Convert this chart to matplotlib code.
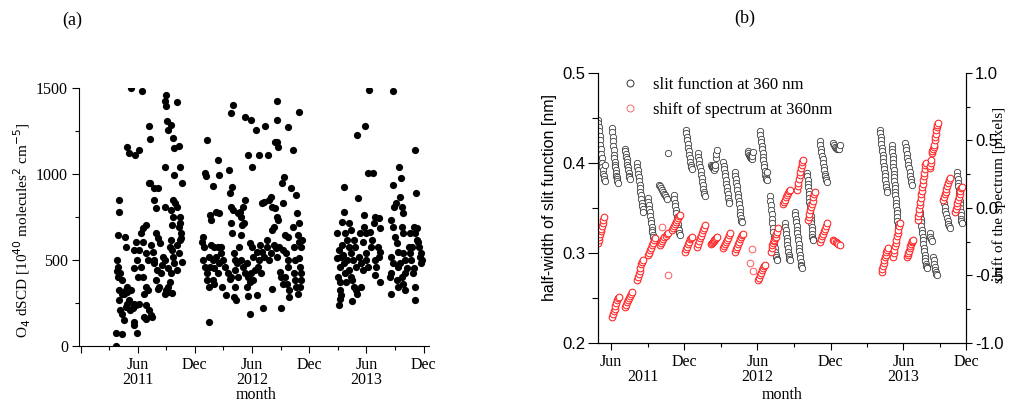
import numpy as np
import matplotlib
matplotlib.use("Agg")
import matplotlib.pyplot as plt
from matplotlib.lines import Line2D
from matplotlib.transforms import blended_transform_factory

SERIF = "Liberation Serif"
SANS = "Liberation Sans"
EPOCH = np.datetime64("2011-01-01")

plt.rcParams["font.family"] = SERIF


def day(s):
    """Days since 2011-01-01 for an ISO date string."""
    return int((np.datetime64(s) - EPOCH).astype(int))


# ---- panel (a): O4 dSCD, x in days since 2011-01-01 ----
o4_2011_days = [81, 82, 102, 149, 84, 91, 93, 87, 86, 89,
                88, 96, 102, 91, 102, 93, 107, 113, 118, 96,
                102, 107, 113, 118, 127, 135, 140, 113, 111, 118,
                124, 129, 140, 141, 145, 156, 118, 124, 143, 156,
                129, 165, 148, 140, 151, 156, 145, 140, 162, 169,
                178, 167, 178, 184, 162, 167, 178, 184, 173, 178,
                189, 173, 178, 194, 198, 187, 191, 187, 191, 202,
                216, 205, 211, 194, 200, 202, 211, 216, 222, 205,
                213, 227, 211, 220, 216, 233, 230, 238, 238, 249,
                254, 241, 240, 239, 241, 238, 241, 244, 249, 257,
                257, 265, 260, 265, 276, 271, 254, 260, 265, 267,
                276, 249, 257, 249, 260, 265, 267, 267, 276, 282,
                287, 285, 287, 282, 289, 287, 293, 293, 276, 282,
                289, 258]
o4_2011_vals = [0, 76, 68, 76, 437, 849, 781, 645, 499, 460,
                402, 422, 383, 324, 305, 266, 305, 324, 344, 208,
                188, 150, 227, 247, 208, 218, 247, 577, 635, 315,
                266, 324, 140, 120, 241, 247, 1156, 1125, 1111, 1140,
                1500, 1484, 499, 451, 402, 558, 606, 558, 655, 684,
                703, 606, 538, 499, 460, 402, 344, 324, 305, 237,
                208, 169, 159, 179, 169, 946, 950, 1277, 1203, 917,
                917, 849, 800, 587, 548, 499, 655, 626, 597, 480,
                441, 422, 383, 344, 334, 519, 470, 499, 305, 344,
                373, 324, 1043, 810, 1461, 1422, 1393, 1306, 1257, 1287,
                791, 752, 703, 849, 810, 829, 577, 558, 519, 480,
                441, 451, 422, 315, 309, 1209, 1150, 995, 1416, 1164,
                1043, 752, 713, 694, 655, 616, 490, 946, 587, 538,
                626, 616]

o4_2012_days = [374, 365, 369, 380, 360, 358, 363, 361, 365, 372,
                374, 380, 391, 396, 383, 387, 392, 401, 412, 407,
                410, 387, 396, 407, 418, 380, 391, 401, 412, 383,
                396, 407, 418, 423, 429, 420, 434, 440, 445, 450,
                443, 450, 456, 453, 450, 448, 456, 445, 454, 458,
                461, 470, 461, 472, 461, 459, 467, 474, 472, 478,
                483, 481, 485, 492, 489, 494, 494, 483, 489, 494,
                499, 499, 505, 510, 505, 505, 510, 514, 516, 510,
                518, 521, 514, 521, 527, 529, 532, 538, 535, 532,
                538, 543, 548, 554, 548, 554, 552, 546, 559, 565,
                565, 568, 570, 576, 570, 576, 579, 587, 581, 590,
                581, 587, 594, 597, 590, 597, 601, 597, 597, 597,
                601, 605, 608, 614, 603, 614, 608, 612, 619, 616,
                622, 625, 630, 633, 622, 628, 636, 630, 633, 636,
                641, 646, 649, 652, 655, 652, 655, 657, 657, 660,
                666, 663, 666, 666, 670, 674, 674, 677, 674, 668,
                663, 670]
o4_2012_vals = [1199, 1005, 989, 140, 635, 606, 577, 499, 460, 422,
                383, 344, 383, 363, 762, 733, 931, 781, 775, 1082,
                995, 587, 577, 577, 577, 519, 499, 519, 480, 460,
                451, 422, 538, 499, 460, 344, 295, 422, 392, 402,
                1024, 1357, 1403, 655, 713, 810, 791, 888, 927, 538,
                499, 480, 441, 402, 344, 282, 266, 577, 771, 781,
                752, 645, 703, 713, 810, 849, 1334, 499, 460, 422,
                480, 344, 402, 373, 289, 1111, 188, 1315, 1043, 597,
                577, 519, 422, 383, 441, 1254, 548, 499, 460, 295,
                1111, 587, 548, 519, 829, 839, 218, 422, 1282, 616,
                577, 1111, 849, 868, 499, 538, 674, 694, 810, 800,
                334, 587, 567, 519, 1184, 1184, 1156, 1315, 1422, 752,
                733, 431, 402, 363, 577, 558, 218, 946, 985, 829,
                645, 538, 499, 460, 402, 363, 324, 1272, 635, 286,
                917, 1141, 694, 577, 499, 422, 383, 344, 878, 771,
                713, 305, 1358, 509, 460, 422, 383, 616, 577, 606,
                645, 344]

o4_2013_days = [793, 788, 797, 791, 799, 801, 810, 788, 793, 797,
                799, 801, 804, 808, 810, 804, 812, 815, 821, 826,
                821, 826, 832, 837, 815, 818, 832, 840, 848, 826,
                832, 842, 848, 837, 842, 845, 853, 856, 853, 866,
                862, 870, 859, 864, 870, 873, 875, 881, 877, 881,
                886, 881, 886, 891, 895, 899, 897, 902, 906, 908,
                908, 913, 910, 919, 924, 921, 922, 924, 927, 957,
                962, 960, 962, 968, 962, 968, 968, 968, 971, 975,
                973, 979, 982, 979, 984, 982, 989, 986, 993, 989,
                995, 995, 1000, 995, 1000, 1004, 1000, 1000, 1006, 1011,
                1006, 1017, 1022, 1028, 1022, 1033, 1036, 1038, 1041, 1038,
                1025, 1033, 1030, 1049, 1055, 1058, 1047, 1052, 1044, 1055,
                1038, 1044]
o4_2013_vals = [237, 509, 460, 402, 373, 519, 480, 659, 558, 276,
                324, 295, 587, 529, 927, 719, 781, 655, 616, 577,
                499, 441, 402, 383, 422, 373, 538, 499, 460, 713,
                674, 344, 324, 262, 616, 577, 1228, 859, 305, 344,
                655, 606, 519, 480, 441, 762, 694, 655, 1277, 499,
                460, 538, 1005, 1490, 664, 616, 577, 1005, 713, 752,
                499, 460, 412, 577, 548, 519, 742, 684, 373, 402,
                422, 305, 733, 694, 519, 480, 1481, 937, 810, 829,
                635, 597, 548, 383, 344, 460, 480, 1043, 975, 868,
                810, 694, 655, 402, 363, 324, 771, 538, 499, 451,
                422, 577, 538, 577, 655, 694, 655, 1141, 888, 266,
                499, 451, 422, 577, 538, 499, 606, 519, 616, 480,
                344, 684]

# ---- panel (b): measurement periods (first/last day) and values in time order ----
slit_spans = [(118, 136), (153, 168), (186, 198), (216, 231), (243, 258),
              (271, 291), (293, 293), (308, 323), (338, 353), (368, 386),
              (401, 416), (431, 446), (461, 478), (493, 506), (523, 541),
              (548, 566), (586, 598), (611, 628), (641, 656), (673, 691),
              (706, 723), (823, 841), (853, 868), (886, 903), (923, 941),
              (948, 953), (956, 966), (981, 998), (1016, 1028)]
slit_vals = [
    [0.448, 0.444, 0.440, 0.435, 0.430, 0.425, 0.420, 0.415, 0.410, 0.405,
     0.400, 0.396, 0.392, 0.388, 0.385, 0.382, 0.380, 0.398],
    [0.439, 0.434, 0.429, 0.424, 0.419, 0.414, 0.409, 0.405, 0.401, 0.398,
     0.395, 0.392, 0.389, 0.386, 0.384, 0.382, 0.380, 0.378],
    [0.416, 0.413, 0.410, 0.407, 0.404, 0.401, 0.398, 0.395, 0.392, 0.389,
     0.386, 0.384, 0.382],
    [0.400, 0.396, 0.392, 0.388, 0.384, 0.380, 0.376, 0.372, 0.368, 0.364,
     0.360, 0.356, 0.352, 0.349, 0.346],
    [0.361, 0.357, 0.353, 0.349, 0.345, 0.341, 0.337, 0.333, 0.329, 0.326,
     0.323, 0.320, 0.318, 0.316],
    [0.376, 0.374, 0.372, 0.370, 0.368, 0.366, 0.364, 0.362, 0.360],
    [0.411],
    [0.364, 0.360, 0.356, 0.352, 0.348, 0.344, 0.340, 0.336, 0.332, 0.328,
     0.325, 0.322, 0.320],
    [0.437, 0.433, 0.429, 0.425, 0.421, 0.417, 0.413, 0.409, 0.405, 0.401,
     0.398, 0.395, 0.393],
    [0.411, 0.407, 0.403, 0.399, 0.395, 0.391, 0.387, 0.383, 0.379, 0.375,
     0.371, 0.368, 0.365, 0.363],
    [0.398, 0.397, 0.396, 0.395, 0.394, 0.393, 0.392, 0.394, 0.398, 0.405,
     0.410, 0.414],
    [0.401, 0.397, 0.393, 0.389, 0.385, 0.381, 0.377, 0.373, 0.369, 0.365,
     0.361, 0.358, 0.355],
    [0.390, 0.386, 0.382, 0.378, 0.374, 0.370, 0.366, 0.362, 0.358, 0.354,
     0.350, 0.346, 0.342, 0.339, 0.336, 0.334],
    [0.413, 0.411, 0.409, 0.408, 0.407, 0.406, 0.405, 0.404, 0.408, 0.412],
    [0.435, 0.431, 0.427, 0.423, 0.419, 0.415, 0.411, 0.407, 0.403, 0.399,
     0.395, 0.391, 0.387, 0.384, 0.382, 0.381, 0.390],
    [0.363, 0.358, 0.353, 0.348, 0.343, 0.338, 0.333, 0.328, 0.323, 0.318,
     0.313, 0.309, 0.305, 0.301, 0.298, 0.295, 0.293, 0.292],
    [0.333, 0.329, 0.325, 0.321, 0.317, 0.313, 0.309, 0.305, 0.301, 0.298,
     0.295, 0.293, 0.292],
    [0.346, 0.342, 0.338, 0.334, 0.330, 0.326, 0.322, 0.318, 0.314, 0.310,
     0.306, 0.302, 0.298, 0.294, 0.290, 0.287, 0.285, 0.283],
    [0.389, 0.385, 0.381, 0.377, 0.373, 0.369, 0.365, 0.361, 0.357, 0.353,
     0.349, 0.345, 0.341, 0.337, 0.333, 0.329, 0.325, 0.321, 0.318, 0.316,
     0.314],
    [0.424, 0.420, 0.416, 0.412, 0.408, 0.404, 0.400, 0.396, 0.392, 0.388,
     0.385, 0.383, 0.381, 0.379],
    [0.422, 0.420, 0.418, 0.417, 0.416, 0.415, 0.416, 0.420],
    [0.437, 0.433, 0.429, 0.425, 0.421, 0.417, 0.413, 0.409, 0.405, 0.401,
     0.397, 0.393, 0.389, 0.385, 0.381, 0.377, 0.373, 0.370, 0.368],
    [0.420, 0.416, 0.412, 0.408, 0.404, 0.400, 0.396, 0.392, 0.388, 0.384,
     0.380, 0.376, 0.372, 0.368, 0.364, 0.360, 0.356, 0.352, 0.348, 0.344,
     0.340, 0.336, 0.332, 0.329],
    [0.422, 0.418, 0.414, 0.410, 0.406, 0.402, 0.398, 0.394, 0.390, 0.386,
     0.382, 0.379, 0.376],
    [0.346, 0.342, 0.338, 0.334, 0.330, 0.326, 0.322, 0.318, 0.314, 0.310,
     0.306, 0.302, 0.298, 0.294, 0.291, 0.288, 0.286, 0.284, 0.283],
    [0.322, 0.318, 0.315, 0.313],
    [0.296, 0.292, 0.288, 0.284, 0.281, 0.279, 0.277, 0.276],
    [0.359, 0.355, 0.351, 0.347, 0.343, 0.339, 0.335, 0.332, 0.330, 0.328],
    [0.390, 0.386, 0.382, 0.378, 0.374, 0.370, 0.366, 0.362, 0.358, 0.354,
     0.350, 0.346, 0.342, 0.338, 0.335, 0.333],
]

shift_spans = [(118, 133), (153, 171), (186, 203), (216, 231), (243, 261),
               (273, 293), (303, 323), (336, 353), (366, 386), (401, 416),
               (431, 448), (461, 481), (518, 536), (551, 568), (581, 598),
               (616, 631), (643, 661), (673, 691), (706, 723), (828, 843),
               (856, 873), (891, 906), (918, 938), (948, 968), (981, 998),
               (1011, 1028)]
shift_vals = [
    [-0.262, -0.240, -0.218, -0.196, -0.174, -0.152, -0.130, -0.108, -0.086, -0.068],
    [-0.805, -0.785, -0.765, -0.745, -0.725, -0.705, -0.685, -0.670, -0.657],
    [-0.731, -0.715, -0.699, -0.683, -0.667, -0.651, -0.635, -0.620],
    [-0.533, -0.510, -0.487, -0.464, -0.441, -0.418, -0.400, -0.385],
    [-0.348, -0.330, -0.312, -0.294, -0.276, -0.258, -0.240, -0.225],
    [-0.274, -0.260, -0.246, -0.232, -0.218, -0.204, -0.194, -0.188],
    [-0.163, -0.148, -0.133, -0.118, -0.103, -0.088, -0.073, -0.060, -0.052],
    [-0.323, -0.305, -0.287, -0.269, -0.251, -0.233, -0.220, -0.212],
    [-0.286, -0.266, -0.246, -0.226, -0.206, -0.186, -0.166, -0.146, -0.126],
    [-0.270, -0.262, -0.254, -0.246, -0.238, -0.230, -0.222, -0.214],
    [-0.299, -0.283, -0.267, -0.251, -0.235, -0.219, -0.203, -0.188],
    [-0.323, -0.305, -0.287, -0.269, -0.251, -0.233, -0.215, -0.200, -0.193],
    [-0.533, -0.515, -0.497, -0.479, -0.461, -0.443, -0.430, -0.422],
    [-0.323, -0.300, -0.277, -0.260, -0.248, -0.236, -0.224, -0.212, -0.195,
     -0.175, -0.150],
    [0.028, 0.045, 0.062, 0.079, 0.096, 0.113, 0.125, 0.133],
    [0.133, 0.160, 0.187, 0.214, 0.241, 0.268, 0.295, 0.320, 0.340, 0.356],
    [-0.089, -0.065, -0.041, -0.017, 0.007, 0.031, 0.055, 0.079, 0.100, 0.121],
    [-0.249, -0.230, -0.211, -0.192, -0.173, -0.154, -0.135, -0.114],
    [-0.237, -0.245, -0.252, -0.259, -0.266, -0.274],
    [-0.471, -0.450, -0.429, -0.408, -0.387, -0.366, -0.345, -0.325, -0.310, -0.299],
    [-0.360, -0.335, -0.310, -0.285, -0.260, -0.235, -0.210, -0.185, -0.160,
     -0.137, -0.114],
    [-0.360, -0.345, -0.330, -0.315, -0.300, -0.285, -0.270, -0.255, -0.245, -0.237],
    [-0.089, -0.062, -0.035, -0.008, 0.019, 0.046, 0.073, 0.100, 0.127, 0.154,
     0.181, 0.208, 0.235, 0.262, 0.290, 0.315, 0.331],
    [0.294, 0.310, 0.330, 0.356, 0.410, 0.425, 0.440, 0.455, 0.470, 0.500,
     0.525, 0.550, 0.575, 0.600, 0.615, 0.627],
    [0.059, 0.080, 0.101, 0.122, 0.143, 0.164, 0.185, 0.205, 0.220],
    [-0.027, -0.005, 0.017, 0.039, 0.061, 0.083, 0.105, 0.125, 0.145, 0.158],
]
shift_single_days = [278, 294, 498, 503, 507]
shift_single_vals = [-0.138, -0.496, -0.410, -0.306, -0.470]

fig = plt.figure(figsize=(10.09, 4.05), dpi=100)

# ---------------- panel (a) ----------------
ax = fig.add_axes([0.0783, 0.1457, 0.3469, 0.637])
for d, v in [(o4_2011_days, o4_2011_vals), (o4_2012_days, o4_2012_vals),
             (o4_2013_days, o4_2013_vals)]:
    ax.plot(d, v, "o", color="black", ms=5.2, mew=0)

ax.set_xlim(day("2010-11-26"), day("2013-12-18"))
ax.set_ylim(0, 1500)
ax.spines["top"].set_visible(False)
ax.spines["right"].set_visible(False)
ax.set_yticks([0, 500, 1000, 1500])
ax.set_yticks([250, 750, 1250], minor=True)
ax.set_xticks([day(s) for s in ["2010-12-01", "2011-06-01", "2011-12-01", "2012-06-01",
                                "2012-12-01", "2013-06-01", "2013-12-01"]])
ax.set_xticklabels(["", "Jun", "Dec", "Jun", "Dec", "Jun", "Dec"])
ax.set_xticks([day(s) for s in ["2011-03-01", "2011-09-01", "2012-03-01", "2012-09-01",
                                "2013-03-01", "2013-09-01"]], minor=True)
ax.tick_params(which="major", direction="out", length=5, width=0.8, labelsize=11.5, pad=3)
ax.tick_params(which="minor", direction="out", length=3, width=0.8)
ax.set_ylabel(r"O$_4$ dSCD [10$^{40}$ molecules$^2$ cm$^{-5}$]", fontsize=11)
ax.yaxis.set_label_coords(-0.132, 0.45)
tr = blended_transform_factory(ax.transData, ax.transAxes)
for yr in ["2011", "2012", "2013"]:
    ax.text(day(yr + "-06-01"), -0.132, yr, transform=tr, ha="center", va="center", fontsize=11.5)
ax.text(0.505, -0.19, "month", transform=ax.transAxes, ha="center", va="center", fontsize=11.5)

# ---------------- panel (b) ----------------
bx = fig.add_axes([0.5927, 0.1531, 0.3647, 0.6667])
bx2 = bx.twinx()

for (d0, d1), v in zip(slit_spans, slit_vals):
    bx.plot(np.linspace(d0, d1, len(v)), v, "o", ls="none", ms=4.6, mfc="white",
            mec="#2e2e2e", mew=0.55)
for (d0, d1), v in zip(shift_spans, shift_vals):
    bx2.plot(np.linspace(d0, d1, len(v)), v, "o", ls="none", ms=4.8, mfc="white",
             mec="#ff2020", mew=0.75)
bx2.plot(shift_single_days, shift_single_vals, "o", ls="none", ms=4.8, mfc="white",
         mec="#ff5a5a", mew=0.7)

x_end = 1038.5
bx.set_xlim(118.5, x_end)
bx.set_ylim(0.2, 0.5)
bx2.set_ylim(-1.0, 1.0)
for a in (bx, bx2):
    a.spines["top"].set_visible(False)
bx.set_yticks([0.2, 0.3, 0.4, 0.5])
bx.set_yticks([0.25, 0.35, 0.45], minor=True)
bx2.set_yticks([-1.0, -0.5, 0.0, 0.5, 1.0])
bx2.set_yticks([-0.75, -0.25, 0.25, 0.75], minor=True)
bx.set_xticks([day(s) for s in ["2011-06-01", "2011-12-01", "2012-06-01",
                                "2012-12-01", "2013-06-01"]] + [x_end])
bx.set_xticklabels(["Jun", "Dec", "Jun", "Dec", "Jun", "Dec"])
bx.set_xticks([day(s) for s in ["2011-09-01", "2012-03-01", "2012-09-01",
                                "2013-03-01", "2013-09-01"]], minor=True)
bx.tick_params(axis="x", which="major", direction="out", length=5, width=0.8,
               labelsize=11.5, pad=3)
bx.tick_params(axis="x", which="minor", direction="out", length=3, width=0.8)
bx.tick_params(axis="y", which="major", direction="out", length=7, width=0.8,
               labelsize=12, pad=2)
bx.tick_params(axis="y", which="minor", direction="out", length=4, width=0.8)
bx2.tick_params(axis="y", which="major", direction="out", length=4.5, width=0.8,
                labelsize=12, pad=2)
bx2.tick_params(axis="y", which="minor", direction="out", length=3, width=0.8)
for lbl in bx.get_yticklabels() + bx2.get_yticklabels():
    lbl.set_fontfamily(SANS)
bx2.set_yticklabels(["-1.0", "-0.5", "0.0", "0.5", "1.0"], fontfamily=SANS)

bx.set_ylabel("half-width of slit function [nm]", fontfamily=SANS, fontsize=11.5)
bx.yaxis.set_label_coords(-0.112, 0.537)
# as in the original, the right label sits over the tick labels
bx2.set_ylabel("shift of the spectrum [pixels]", fontsize=11, rotation=90)
bx2.yaxis.set_label_coords(1.072, 0.548)

trb = blended_transform_factory(bx.transData, bx.transAxes)
for yr, xd in [("2011", 231), ("2012", day("2012-06-01")), ("2013", day("2013-06-01"))]:
    bx.text(xd, -0.126, yr, transform=trb, ha="center", va="center", fontsize=11.5)
bx.text(0.499, -0.193, "month", transform=bx.transAxes, ha="center", va="center", fontsize=11.5)

handles = [Line2D([], [], ls="none", marker="o", ms=5, mfc="none", mec="#333333", mew=0.7),
           Line2D([], [], ls="none", marker="o", ms=5, mfc="none", mec="#f07070", mew=0.7)]
bx.legend(handles, ["slit function at 360 nm", "shift of spectrum at 360nm"],
          loc="upper left", bbox_to_anchor=(0.065, 0.985), frameon=False,
          prop={"family": SERIF, "size": 12}, handlelength=1.0, handletextpad=0.85,
          labelspacing=0.55, borderaxespad=0, borderpad=0)

fig.text(72 / 1009, 1 - 20 / 405, "(a)", ha="center", va="center", fontsize=13)
fig.text(745 / 1009, 1 - 18 / 405, "(b)", ha="center", va="center", fontsize=13)

fig.savefig("out.png", dpi=100)
